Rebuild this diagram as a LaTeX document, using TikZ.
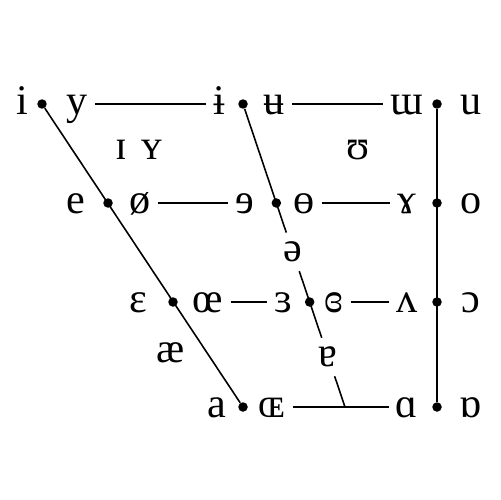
\documentclass[tikz,border=0pt]{standalone}
\usepackage{fontspec}
\setmainfont{Liberation Serif}
\usetikzlibrary{calc}
\begin{document}
\begin{tikzpicture}[x=0.02cm,y=-0.02cm]
% Styles
\tikzstyle{voyelle}=[inner xsep=4pt,inner ysep=0pt,text height=18pt,text depth=6pt,font=\fontsize{24}{28}\selectfont]
\tikzstyle{libre}=[inner sep=5pt,font=\fontsize{24}{28}\selectfont]
\tikzstyle{point}=[circle,fill=black,inner sep=0pt,minimum size=0.19cm]
\tikzstyle{trait}=[line width=0.9pt]
% Cadre
\useasboundingbox (0,0) rectangle (500,500);
% Hauteurs des lignes
\def\LgA{104}
\def\LgB{203}
\def\LgC{302}
\def\LgD{407}
% Colonne arriere
\def\Arr{437}
\def\ArrG{407}
\def\ArrD{471}
% Points : avant, central, arriere
\node[point] (pi) at (42,\LgA) {};
\node[point] (pe) at (108,\LgB) {};
\node[point] (peps) at (173,\LgC) {};
\node[point] (pa) at (243,\LgD) {};
\node[point] (pibar) at (243,\LgA) {};
\coordinate (cbas) at (345,\LgD);
\node[point] (prevE) at ($(pibar)!0.3267!(cbas)$) {};
\node[point] (prevEps) at ($(pibar)!0.6535!(cbas)$) {};
\node[point] (pturnm) at (\Arr,\LgA) {};
\node[point] (po) at (\Arr,\LgB) {};
\node[point] (popeno) at (\Arr,\LgC) {};
\node[point] (pscra) at (\Arr,\LgD) {};
% Ligne fermee
\node[voyelle] (i) at (22,\LgA) {i};
\node[voyelle] (y) at (77,\LgA) {y};
\node[voyelle] (ibar) at (219,\LgA) {ɨ};
\node[voyelle] (ubar) at (274,\LgA) {ʉ};
\node[voyelle] (turnm) at (\ArrG,\LgA) {ɯ};
\node[voyelle] (u) at (\ArrD,\LgA) {u};
% Voyelles relachees
\node[voyelle] (smallI) at (121,149) {ɪ};
\node[voyelle] (smallY) at (152,149) {ʏ};
\node[voyelle] (upsilon) at (358,149) {ʊ};
% Ligne mi-fermee
\node[voyelle] (e) at (76,\LgB) {e};
\node[voyelle] (oslash) at (140,\LgB) {ø};
\node[voyelle] (revE) at (245,\LgB) {ɘ};
\node[voyelle] (baro) at (304,\LgB) {ɵ};
\node[voyelle] (ramshorn) at (\ArrG,\LgB) {ɤ};
\node[voyelle] (o) at (\ArrD,\LgB) {o};
\node[libre] (schwa) at ($(pibar)!0.488!(cbas)$) {ə};
% Ligne mi-ouverte
\node[voyelle] (eps) at (138,\LgC) {ɛ};
\node[voyelle] (oe) at (208,\LgC) {œ};
\node[voyelle] (reveps) at (283,\LgC) {ɜ};
\node[voyelle] (closedeps) at (334,\LgC) {ɞ};
\node[voyelle] (turnv) at (\ArrG,\LgC) {ʌ};
\node[voyelle] (openo) at (\ArrD,\LgC) {ɔ};
\node[voyelle] (ae) at (171,352) {æ};
\node[libre] (turna) at ($(pibar)!0.835!(cbas)$) {ɐ};
% Ligne ouverte
\node[voyelle] (a) at (217,\LgD) {a};
\node[voyelle] (OE) at (272,\LgD) {ɶ};
\node[voyelle] (scra) at (\ArrG,\LgD) {ɑ};
\node[voyelle] (turnscra) at (\ArrD,\LgD) {ɒ};
% Traits horizontaux
\draw[trait] (y) -- (ibar);
\draw[trait] (ubar) -- (turnm);
\draw[trait] (oslash) -- (revE);
\draw[trait] (baro) -- (ramshorn);
\draw[trait] (oe) -- (reveps);
\draw[trait] (closedeps) -- (turnv);
\draw[trait] (OE) -- (scra);
% Traits obliques et vertical
\draw[trait] (pi) -- (pa);
\draw[trait] (pibar) -- (schwa);
\draw[trait] (schwa) -- (turna);
\draw[trait] (turna) -- (cbas);
\draw[trait] (pturnm) -- (pscra);
\end{tikzpicture}
\end{document}
